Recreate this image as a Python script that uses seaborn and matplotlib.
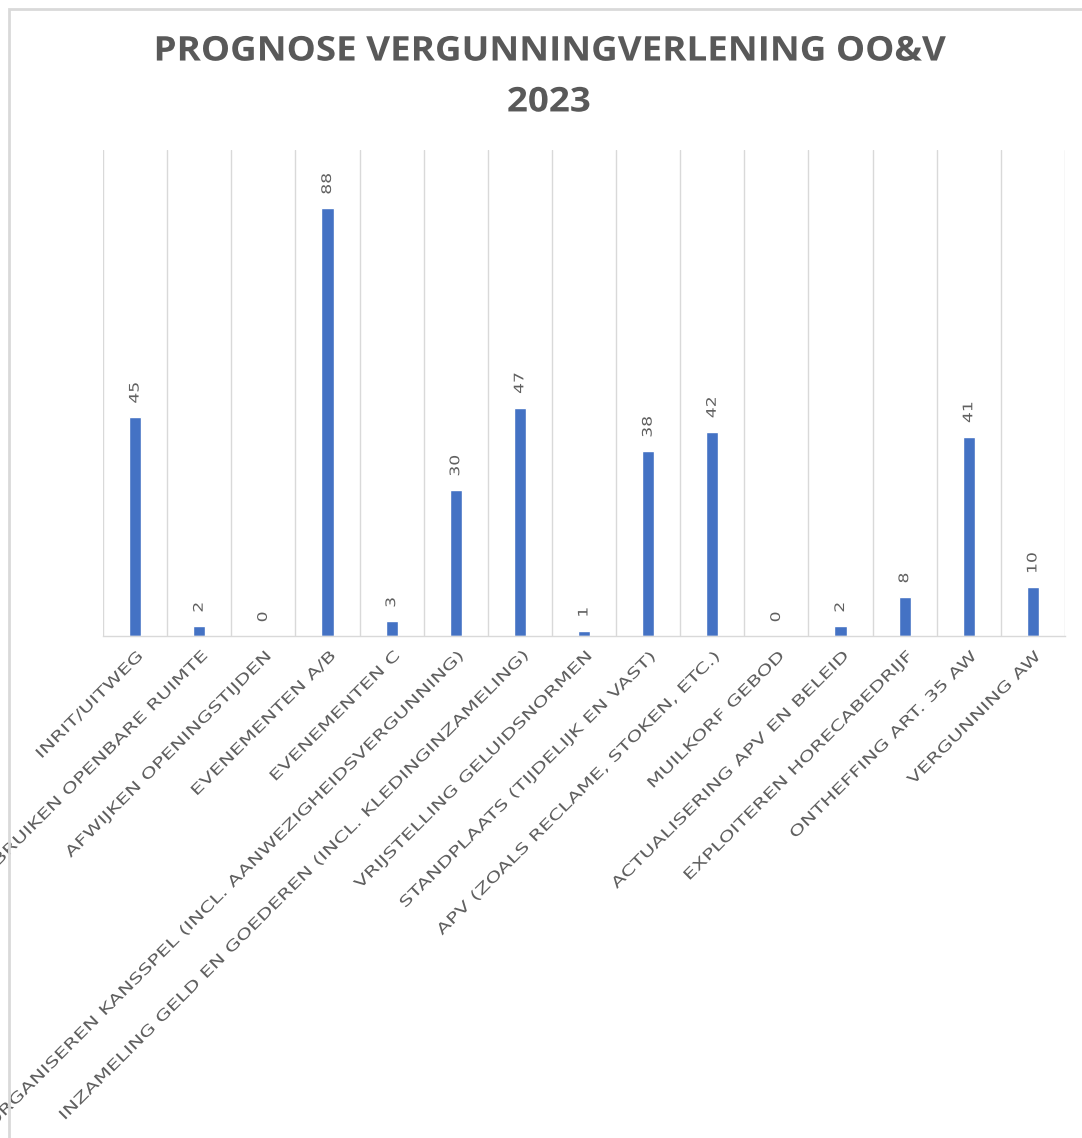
import matplotlib
matplotlib.use("Agg")
import matplotlib.pyplot as plt
import seaborn as sns
from matplotlib.patches import Rectangle
from matplotlib.patheffects import AbstractPathEffect
from matplotlib.transforms import Affine2D

categories = [
    "INRIT/UITWEG",
    "GEBRUIKEN OPENBARE RUIMTE",
    "AFWIJKEN OPENINGSTIJDEN",
    "EVENEMENTEN A/B",
    "EVENEMENTEN C",
    "ORGANISEREN KANSSPEL (INCL. AANWEZIGHEIDSVERGUNNING)",
    "INZAMELING GELD EN GOEDEREN (INCL. KLEDINGINZAMELING)",
    "VRIJSTELLING GELUIDSNORMEN",
    "STANDPLAATS (TIJDELIJK EN VAST)",
    "APV (ZOALS RECLAME, STOKEN, ETC.)",
    "MUILKORF GEBOD",
    "ACTUALISERING APV EN BELEID",
    "EXPLOITEREN HORECABEDRIJF",
    "ONTHEFFING ART. 35 AW",
    "VERGUNNING AW",
]
values = [45, 2, 0, 88, 3, 30, 47, 1, 38, 42, 0, 2, 8, 41, 10]
title_text = "PROGNOSE VERGUNNINGVERLENING OO&V\n2023"


class Widen(AbstractPathEffect):
    """Widen text along its baseline (imitates the wide letter spacing)."""

    def __init__(self, sx, anchor):
        super().__init__()
        self.sx = sx
        self.anchor = anchor

    def draw_path(self, renderer, gc, tpath, affine, rgbFace=None):
        ext = tpath.get_extents()
        x0 = ext.x0 + (ext.x1 - ext.x0) * self.anchor
        pre = Affine2D().translate(-x0, 0).scale(self.sx, 1).translate(x0, 0)
        renderer.draw_path(gc, tpath, pre + affine, rgbFace)


sns.set_theme(style="white")
plt.rcParams["font.family"] = ["Open Sans", "DejaVu Sans"]

W, H = 1082, 1138
fig = plt.figure(figsize=(W / 100, H / 100), dpi=100)
ax = fig.add_axes([103 / W, 1 - 636 / H, (1065 - 103) / W, (636 - 150) / H])

sns.barplot(x=categories, y=values, color="#4472C4", width=0.19, ax=ax,
            saturation=1, errorbar=None)

ax.set_xlim(-0.5, len(categories) - 0.5)
ax.set_ylim(0, 100)
ax.set_yticks([])
ax.set_ylabel("")
ax.set_xlabel("")

# category boundary gridlines
ax.set_xticks([i - 0.5 for i in range(len(categories) + 1)], minor=True)
ax.grid(which="minor", axis="x", color="#D9D9D9", linewidth=1.0)
ax.grid(which="major", visible=False)
ax.tick_params(axis="x", which="both", length=0)
for s in ["left", "right", "top"]:
    ax.spines[s].set_visible(False)
ax.spines["bottom"].set_color("#D9D9D9")
ax.spines["bottom"].set_linewidth(1.0)

ax.set_xticks(range(len(categories)))
labels = ax.set_xticklabels(categories, rotation=45, ha="right",
                            rotation_mode="anchor", fontsize=10.5,
                            color="#606060", family="DejaVu Sans")
for t in labels:
    t.set_path_effects([Widen(1.42, 1.0)])
ax.tick_params(axis="x", which="major", pad=9)

for cont in ax.containers:
    texts = ax.bar_label(cont, labels=[str(v) for v in values], rotation=90,
                         padding=10, fontsize=9.5, color="#606060",
                         family="DejaVu Sans")
    for t in texts:
        t.set_path_effects([Widen(1.3, 0.0)])

title = fig.text(549 / W, 1 - 77 / H, title_text, ha="center", va="center",
                 fontsize=24.5, fontweight="bold", color="#595959",
                 linespacing=1.65)
title.set_path_effects([Widen(1.08, 0.5)])

fig.patches.append(Rectangle((9 / W, -0.1), 1.2, 1 - 9 / H + 0.1,
                             transform=fig.transFigure, fill=False,
                             edgecolor="#D9D9D9", linewidth=2, zorder=0))

fig.savefig("out.png", dpi=100)
